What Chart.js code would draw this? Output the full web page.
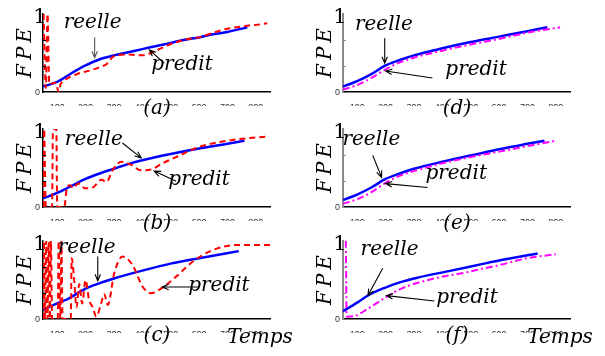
<!DOCTYPE html>
<html>
<head>
<meta charset="utf-8">
<script src="https://cdn.jsdelivr.net/npm/chart.js@4"></script>
<style>
  body { margin: 0; background: #fff; }
  #wrap { position: relative; width: 605px; height: 356px; overflow: hidden; background: #fff; }
  #wrap canvas { position: absolute; }
</style>
</head>
<body>
<div id="wrap"></div>
<script>
// time axis
const timeTicks = [100, 200, 300, 400, 500, 600, 700, 800];
const timeMin = 50;
const timeMax = 850;

// reelle (blue) per panel: [temps, FPE]
const reelleA = [[50,0.07],[100,0.13],[150,0.24],[200,0.34],[250,0.42],[300,0.47],[350,0.51],[400,0.55],[450,0.59],[500,0.63],[550,0.67],[600,0.70],[650,0.74],[700,0.77],[770,0.83]];
const reelleB = [[50,0.11],[100,0.18],[150,0.27],[200,0.36],[250,0.43],[300,0.49],[350,0.55],[400,0.60],[500,0.68],[600,0.75],[700,0.81],[760,0.85]];
const reelleC = [[50,0.12],[100,0.20],[134,0.25],[200,0.39],[250,0.46],[300,0.52],[400,0.62],[500,0.71],[600,0.78],[740,0.87]];
const reelleD = [[50,0.07],[100,0.14],[150,0.23],[200,0.34],[250,0.41],[300,0.47],[400,0.56],[500,0.64],[600,0.71],[700,0.78],[770,0.83]];
const reelleE = [[50,0.09],[100,0.16],[150,0.25],[200,0.36],[250,0.43],[300,0.49],[400,0.58],[500,0.66],[600,0.74],[700,0.81],[760,0.85]];
const reelleF = [[50,0.10],[100,0.21],[137,0.30],[197,0.40],[250,0.47],[312,0.53],[431,0.62],[547,0.71],[600,0.75],[736,0.84]];

// predit per panel: [temps, FPE]
const preditA = [[52,1.0],[60,0.05],[66,1.0],[72,0.1],[95,0.12],[105,0.0],[112,0.1],[130,0.16],[170,0.23],[220,0.28],[250,0.32],[275,0.36],[300,0.46],[350,0.48],[400,0.47],[430,0.50],[490,0.60],[550,0.67],[600,0.70],[650,0.76],[700,0.81],[750,0.84],[800,0.86],[840,0.88]];
const preditB = [[52,0],[54,1],[60,0],[82,0],[85,1],[97,1],[100,0],[125,0],[134,0.24],[145,0.28],[157,0.24],[169,0.29],[180,0.30],[197,0.24],[225,0.25],[256,0.35],[274,0.32],[295,0.47],[326,0.58],[361,0.54],[396,0.47],[431,0.48],[466,0.55],[537,0.67],[600,0.77],[669,0.83],[740,0.87],[834,0.90]];
const preditC = [[50,0],[53,1],[57,0],[61,1],[66,0],[70,1],[74,0],[78,1],[82,0],[102,0],[105,1],[111,0],[115,1],[119,0],[148,0],[151,0.78],[160,0.5],[168,0.15],[178,0.45],[188,0.2],[200,0.5],[212,0.25],[225,0.15],[238,0.03],[255,0.2],[266,0.32],[278,0.18],[302,0.6],[330,0.8],[366,0.69],[400,0.42],[431,0.33],[470,0.40],[518,0.54],[576,0.73],[646,0.88],[740,0.95],[850,0.95]];
const preditD = [[50,0.03],[100,0.09],[150,0.18],[200,0.29],[250,0.38],[300,0.44],[400,0.53],[500,0.61],[600,0.68],[700,0.76],[815,0.83]];
const preditE = [[50,0.04],[100,0.10],[150,0.19],[200,0.31],[250,0.40],[300,0.46],[400,0.56],[500,0.64],[600,0.71],[700,0.78],[800,0.85]];
const preditF = [[60,1.0],[63,0.03],[92,0.04],[137,0.13],[197,0.27],[256,0.39],[372,0.52],[487,0.60],[547,0.65],[600,0.69],[700,0.78],[800,0.83]];

// annotations (data coordinates)
const annA = { rText: [225, 0.82], rArrow: [[232, 0.70], [232, 0.44]], rColor: '#555', pText: [540, 0.28], pArrow: [[477, 0.37], [425, 0.54]] };
const annB = { rText: [229, 0.79], rArrow: [[330, 0.82], [396, 0.63]], pText: [600, 0.28], pArrow: [[519, 0.33], [442, 0.46]] };
const annC = { rText: [204, 0.84], rArrow: [[243, 0.80], [243, 0.49]], pText: [670, 0.36], pArrow: [[600, 0.41], [470, 0.41]] };
const annD = { rText: [194, 0.79], rArrow: [[197, 0.69], [197, 0.37]], pText: [519, 0.22], pArrow: [[365, 0.18], [200, 0.27]] };
const annE = { rText: [150, 0.79], rArrow: [[155, 0.66], [186, 0.38]], pText: [449, 0.36], pArrow: [[348, 0.25], [200, 0.30]] };
const annF = { rText: [214, 0.82], rArrow: [[190, 0.65], [138, 0.30]], pText: [487, 0.21], pArrow: [[372, 0.23], [203, 0.30]] };

const panels = [
  { left: 0,   top: 14,  h: 124, reelle: reelleA, predit: preditA, kind: 'red',  ann: annA, label: '(a)', temps: false, axis: '#000' },
  { left: 0,   top: 129, h: 124, reelle: reelleB, predit: preditB, kind: 'red',  ann: annB, label: '(b)', temps: false, axis: '#000' },
  { left: 0,   top: 241, h: 129, reelle: reelleC, predit: preditC, kind: 'red',  ann: annC, label: '(c)', temps: true,  axis: '#000' },
  { left: 300, top: 14,  h: 124, reelle: reelleD, predit: preditD, kind: 'pink', ann: annD, label: '(d)', temps: false, axis: '#888' },
  { left: 300, top: 129, h: 124, reelle: reelleE, predit: preditE, kind: 'pink', ann: annE, label: '(e)', temps: false, axis: '#888' },
  { left: 300, top: 241, h: 129, reelle: reelleF, predit: preditF, kind: 'pink', ann: annF, label: '(f)', temps: true,  axis: '#888' }
];

const serifItalic = 'italic 20px "DejaVu Serif"';

function arrow(ctx, x1, y1, x2, y2, color) {
  const ang = Math.atan2(y2 - y1, x2 - x1);
  const L = 7, w = 0.4;
  ctx.strokeStyle = color;
  ctx.lineWidth = 1.1;
  ctx.setLineDash([]);
  ctx.beginPath();
  ctx.moveTo(x1, y1);
  ctx.lineTo(x2, y2);
  ctx.moveTo(x2 - L * Math.cos(ang - w), y2 - L * Math.sin(ang - w));
  ctx.lineTo(x2, y2);
  ctx.lineTo(x2 - L * Math.cos(ang + w), y2 - L * Math.sin(ang + w));
  ctx.stroke();
}

const annotate = {
  id: 'annotate',
  afterDraw(chart, args, o) {
    const ctx = chart.ctx, a = chart.chartArea;
    const X = v => chart.scales.x.getPixelForValue(v);
    const Y = v => chart.scales.y.getPixelForValue(v);
    ctx.save();

    // small inner ticks on y axis
    ctx.strokeStyle = o.axis;
    ctx.lineWidth = 1;
    [1 / 3, 2 / 3].forEach(v => {
      ctx.beginPath();
      ctx.moveTo(a.left, Math.round(Y(v)) + 0.5);
      ctx.lineTo(a.left + 3, Math.round(Y(v)) + 0.5);
      ctx.stroke();
    });

    // y labels
    ctx.fillStyle = '#333';
    ctx.font = '9px "Liberation Sans"';
    ctx.textAlign = 'right';
    ctx.textBaseline = 'middle';
    ctx.fillText('0', a.left - 3, a.bottom + 1);
    ctx.fillStyle = '#000';
    ctx.font = '21px "DejaVu Serif"';
    ctx.textAlign = 'center';
    ctx.textBaseline = 'alphabetic';
    ctx.fillText('1', a.left - 3, a.top + 9);

    // FPE
    ctx.save();
    ctx.translate(26, (a.top + a.bottom) / 2);
    ctx.rotate(-Math.PI / 2);
    ctx.font = serifItalic;
    ctx.letterSpacing = '4px';
    ctx.textAlign = 'center';
    ctx.textBaseline = 'middle';
    ctx.fillText('FPE', 2, 0);
    ctx.restore();

    // panel label / Temps
    ctx.font = serifItalic;
    ctx.textAlign = 'center';
    ctx.fillText(o.label, 157, a.bottom + 22);
    if (o.temps) ctx.fillText('Temps', 260, a.bottom + 24);

    // annotations
    const an = o.ann;
    ctx.fillText('reelle', X(an.rText[0]), Y(an.rText[1]));
    ctx.fillText('predit', X(an.pText[0]), Y(an.pText[1]));
    arrow(ctx, X(an.rArrow[0][0]), Y(an.rArrow[0][1]), X(an.rArrow[1][0]), Y(an.rArrow[1][1]), an.rColor || '#000');
    arrow(ctx, X(an.pArrow[0][0]), Y(an.pArrow[0][1]), X(an.pArrow[1][0]), Y(an.pArrow[1][1]), '#000');
    ctx.restore();
  }
};

const wrap = document.getElementById('wrap');
const toXY = arr => arr.map(p => ({ x: p[0], y: p[1] }));

panels.forEach(p => {
  const cv = document.createElement('canvas');
  const W = p.left === 0 ? 300 : 305;
  cv.width = W;
  cv.height = p.h;
  cv.style.left = p.left + 'px';
  cv.style.top = (p.top - 14) + 'px';
  wrap.appendChild(cv);

  const predStyle = p.kind === 'red'
    ? { borderColor: '#ff0000', borderDash: [6, 4], borderWidth: 2 }
    : { borderColor: '#ff00ff', borderDash: [7, 3, 2, 3], borderWidth: 2 };

  new Chart(cv, {
    type: 'line',
    data: {
      datasets: [
        Object.assign({ label: 'predit', data: toXY(p.predit), pointRadius: 0, cubicInterpolationMode: 'monotone' }, predStyle),
        { label: 'reelle', data: toXY(p.reelle), borderColor: '#0000ff', borderWidth: 2.5, pointRadius: 0, cubicInterpolationMode: 'monotone' }
      ]
    },
    options: {
      responsive: false,
      animation: false,
      events: [],
      layout: { padding: { left: 0, top: 14, right: W - 270, bottom: p.h - 14 - 78 - 14 } },
      plugins: {
        legend: { display: false },
        tooltip: { enabled: false },
        annotate: { ann: p.ann, label: p.label, temps: p.temps, axis: p.axis }
      },
      scales: {
        x: {
          type: 'linear',
          min: timeMin,
          max: timeMax,
          grid: { display: false },
          border: { display: true, color: '#000', width: 1.5 },
          afterBuildTicks: s => { s.ticks = timeTicks.map(v => ({ value: v })); },
          afterFit: s => { s.height = 14; },
          ticks: {
            color: '#333',
            font: { family: 'Liberation Sans', size: 9 },
            padding: 2,
            maxRotation: 0,
            autoSkip: false,
            callback: v => String(v)
          }
        },
        y: {
          min: 0,
          max: 1,
          grid: { display: false },
          border: { display: true, color: p.axis, width: p.axis === '#000' ? 1.5 : 2 },
          ticks: { display: false },
          afterFit: s => { s.width = 43; }
        }
      }
    },
    plugins: [annotate]
  });
});
</script>
</body>
</html>
